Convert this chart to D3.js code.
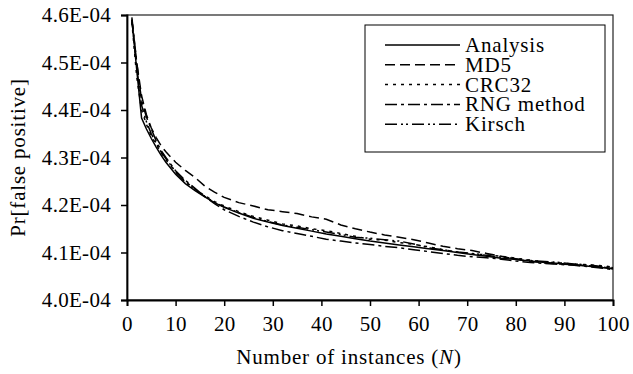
<!DOCTYPE html>
<html>
<head>
<meta charset="utf-8">
<script src="https://cdn.jsdelivr.net/npm/d3@7"></script>
<style>
  body { margin: 0; background: #fff; }
  svg text { font-family: "Times New Roman", "Liberation Serif", Times, serif; fill: #000; }
</style>
</head>
<body>
<script>
// values in units of 1E-04
const instances = [1,2,3,4,5,6,7,8,10,12,14,16,18,20,23,26,29,32,35,38,41,44,47,50,53,56,59,62,65,68,71,74,77,80,83,86,89,92,95,98,100];

const analysis = [4.590,4.485,4.383,4.360,4.340,4.322,4.305,4.290,4.265,4.245,4.230,4.217,4.205,4.195,4.183,4.172,4.164,4.157,4.151,4.145,4.139,4.134,4.129,4.124,4.120,4.116,4.112,4.108,4.104,4.100,4.096,4.092,4.088,4.085,4.082,4.079,4.077,4.074,4.071,4.068,4.066];
const md5 = [4.590,4.500,4.430,4.390,4.362,4.342,4.325,4.312,4.290,4.273,4.258,4.240,4.227,4.216,4.205,4.198,4.190,4.186,4.182,4.175,4.170,4.158,4.150,4.143,4.137,4.132,4.127,4.120,4.113,4.108,4.104,4.098,4.092,4.086,4.081,4.078,4.076,4.074,4.072,4.069,4.066];
const crc32 = [4.585,4.470,4.400,4.370,4.345,4.328,4.310,4.295,4.270,4.250,4.233,4.220,4.207,4.198,4.186,4.176,4.168,4.160,4.156,4.150,4.146,4.140,4.134,4.128,4.126,4.121,4.117,4.112,4.106,4.101,4.097,4.095,4.092,4.088,4.084,4.080,4.078,4.076,4.074,4.072,4.069];
const rng = [4.595,4.500,4.420,4.385,4.360,4.335,4.315,4.300,4.272,4.252,4.235,4.218,4.203,4.190,4.176,4.164,4.154,4.146,4.140,4.134,4.128,4.124,4.120,4.117,4.113,4.110,4.106,4.102,4.098,4.094,4.091,4.089,4.086,4.082,4.079,4.077,4.075,4.073,4.070,4.067,4.064];
const kirsch = [4.590,4.490,4.410,4.375,4.350,4.330,4.312,4.298,4.270,4.248,4.232,4.218,4.206,4.196,4.184,4.174,4.165,4.158,4.153,4.148,4.143,4.138,4.132,4.130,4.127,4.124,4.118,4.110,4.106,4.101,4.098,4.094,4.090,4.087,4.083,4.081,4.079,4.076,4.074,4.070,4.068];

const seriesNames = ["Analysis", "MD5", "CRC32", "RNG method", "Kirsch"];
const seriesValues = [analysis, md5, crc32, rng, kirsch];
const dashes = [null, "10,5", "3,5", "12,4,3,4", "12,4,2,3,2,4"];

const xTicks = [0,10,20,30,40,50,60,70,80,90,100];
const yTicks = [4.0,4.1,4.2,4.3,4.4,4.5,4.6];
const yTickLabels = ["4.0E-04","4.1E-04","4.2E-04","4.3E-04","4.4E-04","4.5E-04","4.6E-04"];

const W = 633, H = 374;
const plotL = 127, plotR = 613, plotT = 15, plotB = 300;
const font = '"Times New Roman", "Liberation Serif", serif';

const svg = d3.select("body").append("svg")
    .attr("width", W)
    .attr("height", H);

const x = d3.scaleLinear().domain([0, 100]).range([plotL, plotR]);
const y = d3.scaleLinear().domain([4.0, 4.6]).range([plotB, plotT]);

// plot area frame
svg.append("rect")
    .attr("x", plotL).attr("y", plotT)
    .attr("width", plotR - plotL).attr("height", plotB - plotT)
    .attr("fill", "none").attr("stroke", "#222").attr("stroke-width", 1.2);

const xAxis = svg.append("g")
    .attr("transform", `translate(0,${plotB})`)
    .call(d3.axisBottom(x).tickValues(xTicks).tickSize(6).tickPadding(10));
const yAxis = svg.append("g")
    .attr("transform", `translate(${plotL},0)`)
    .call(d3.axisLeft(y).tickValues(yTicks).tickFormat((d, i) => yTickLabels[i]).tickSize(6).tickPadding(10));

[xAxis, yAxis].forEach(g => {
    g.select(".domain").attr("stroke", "#000").attr("stroke-width", 1.8);
    g.selectAll(".tick line").attr("stroke", "#000").attr("stroke-width", 1.5);
    g.selectAll(".tick text")
        .style("font-family", font)
        .style("font-size", "21px")
        .style("letter-spacing", "0.3px")
        .attr("fill", "#000");
});
xAxis.selectAll(".tick text").attr("dy", "0.72em");
yAxis.selectAll(".tick text").attr("x", -16);

const line = d3.line()
    .x((d, i) => x(instances[i]))
    .y(d => y(d));

seriesValues.forEach((vals, k) => {
    svg.append("path")
        .datum(vals)
        .attr("d", line)
        .attr("fill", "none")
        .attr("stroke", "#000")
        .attr("stroke-width", 1.5)
        .attr("stroke-dasharray", dashes[k]);
});

// axis titles
svg.append("text")
    .attr("x", 349)
    .attr("y", 364)
    .attr("text-anchor", "middle")
    .style("font-family", font)
    .style("font-size", "21px")
    .style("letter-spacing", "0.8px")
    .html('Number of instances (<tspan font-style="italic">N</tspan>)');

svg.append("text")
    .attr("transform", `translate(25,${(plotT + plotB) / 2}) rotate(-90)`)
    .attr("text-anchor", "middle")
    .style("font-family", font)
    .style("font-size", "21px")
    .style("letter-spacing", "0.8px")
    .text("Pr[false positive]");

// legend
const legend = svg.append("g");
legend.append("rect")
    .attr("x", 365).attr("y", 25)
    .attr("width", 240).attr("height", 127)
    .attr("fill", "#fff").attr("stroke", "#000").attr("stroke-width", 1);

seriesNames.forEach((name, k) => {
    const ly = 45 + k * 19.8;
    legend.append("line")
        .attr("x1", 385).attr("x2", 460)
        .attr("y1", ly).attr("y2", ly)
        .attr("stroke", "#000").attr("stroke-width", 1.5)
        .attr("stroke-dasharray", dashes[k]);
    legend.append("text")
        .attr("x", 465).attr("y", ly)
        .attr("dy", "0.33em")
        .style("font-family", font)
        .style("font-size", "21px")
        .style("letter-spacing", "0.8px")
        .text(name);
});
</script>
</body>
</html>
